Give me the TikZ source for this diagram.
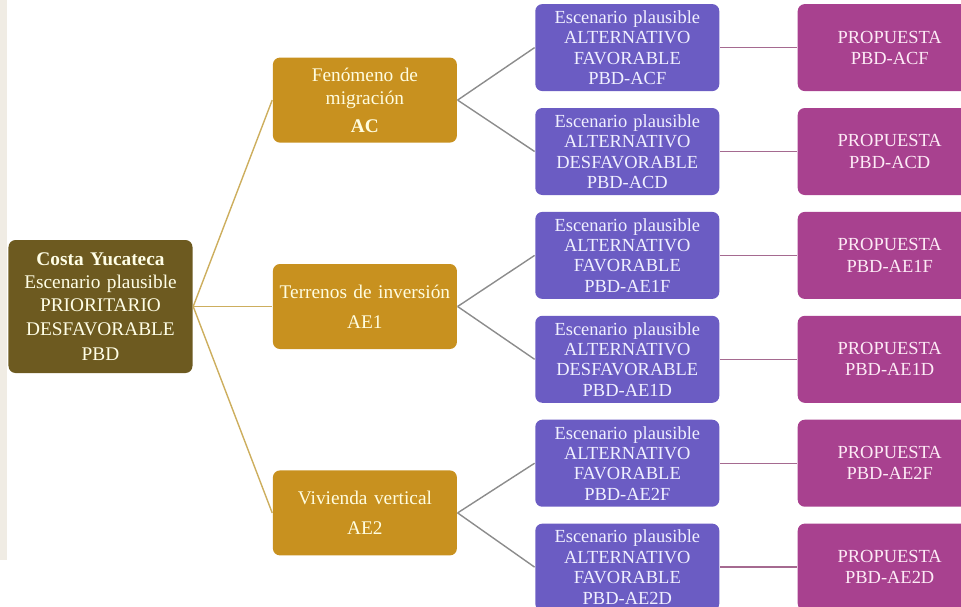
\documentclass[tikz,border=0pt]{standalone}
\usepackage{fontspec}
\setmainfont{Liberation Serif}
\usetikzlibrary{positioning}
\definecolor{rootbrown}{HTML}{6D5A20}
\definecolor{goldbox}{HTML}{C8911F}
\definecolor{purplebox}{HTML}{6B5CC3}
\definecolor{magentabox}{HTML}{A8418F}
\definecolor{goldline}{HTML}{CDAE5E}
\definecolor{grayline}{HTML}{8C8C8C}
\definecolor{magline}{HTML}{A56A90}
\definecolor{leftstrip}{HTML}{F0ECE4}

\begin{document}
\begin{tikzpicture}[
        box/.style={rounded corners=4pt, align=center, inner xsep=0.04cm, text width=3.6cm},
        rootbox/.style={box, fill=rootbrown, text=white!90!yellow, minimum height=2.66cm, font=\fontsize{11}{13}\selectfont},
        themebox/.style={box, fill=goldbox, text=white!88!yellow, minimum height=1.7cm, font=\fontsize{11}{13}\selectfont},
        scenbox/.style={box, fill=purplebox, text=white!94!blue, minimum height=1.74cm, font=\fontsize{10.5}{11.6}\selectfont},
        propbox/.style={box, fill=magentabox, text=white!92!magenta, minimum height=1.74cm, font=\fontsize{10.5}{12}\selectfont},
        line width=0.8pt]
        \useasboundingbox (0,0) rectangle (19.22,-12.12);
        \clip (0,0) rectangle (19.22,-12.12);
        \fill[leftstrip] (0,0) rectangle (0.14,-11.2);

        \node[rootbox] (root) at (2.01,-6.13) {\textbf{Costa Yucateca}\\ Escenario plausible\\ PRIORITARIO\\[1pt] DESFAVORABLE\\[1pt] PBD};

        \node[themebox, right = 1.58cm of root] (ae1) {Terrenos de inversión\\[4pt] AE1};
        \node[themebox, above = 2.4cm of ae1] (ac) {Fenómeno de\\ migración\\[3pt] \textbf{AC}};
        \node[themebox, below = 2.4cm of ae1] (ae2) {Vivienda vertical\\[4pt] AE2};

        \node[scenbox, right = 1.54cm of ac, yshift=1.05cm] (acf) {Escenario plausible\\ ALTERNATIVO\\ FAVORABLE\\ PBD-ACF};
        \node[scenbox, below = 0.31cm of acf] (acd) {Escenario plausible\\ ALTERNATIVO\\ DESFAVORABLE\\ PBD-ACD};
        \node[scenbox, below = 0.31cm of acd] (ae1f) {Escenario plausible\\ ALTERNATIVO\\ FAVORABLE\\ PBD-AE1F};
        \node[scenbox, below = 0.31cm of ae1f] (ae1d) {Escenario plausible\\ ALTERNATIVO\\ DESFAVORABLE\\ PBD-AE1D};
        \node[scenbox, below = 0.31cm of ae1d] (ae2f) {Escenario plausible\\ ALTERNATIVO\\ FAVORABLE\\ PBD-AE2F};
        \node[scenbox, below = 0.31cm of ae2f] (ae2d) {Escenario plausible\\ ALTERNATIVO\\ FAVORABLE\\ PBD-AE2D};

        \node[propbox, right = 1.54cm of acf] (pacf) {PROPUESTA\\ PBD-ACF};
        \node[propbox, right = 1.54cm of acd] (pacd) {PROPUESTA\\ PBD-ACD};
        \node[propbox, right = 1.54cm of ae1f] (pae1f) {PROPUESTA\\ PBD-AE1F};
        \node[propbox, right = 1.54cm of ae1d] (pae1d) {PROPUESTA\\ PBD-AE1D};
        \node[propbox, right = 1.54cm of ae2f] (pae2f) {PROPUESTA\\ PBD-AE2F};
        \node[propbox, right = 1.54cm of ae2d] (pae2d) {PROPUESTA\\ PBD-AE2D};

        \draw[goldline] (root.east) -- (ac.west);
        \draw[goldline] (root.east) -- (ae1.west);
        \draw[goldline] (root.east) -- (ae2.west);

        \draw[grayline] (ac.east) -- (acf.west);
        \draw[grayline] (ac.east) -- (acd.west);
        \draw[grayline] (ae1.east) -- (ae1f.west);
        \draw[grayline] (ae1.east) -- (ae1d.west);
        \draw[grayline] (ae2.east) -- (ae2f.west);
        \draw[grayline] (ae2.east) -- (ae2d.west);

        \draw[magline] (acf) -- (pacf);
        \draw[magline] (acd) -- (pacd);
        \draw[magline] (ae1f) -- (pae1f);
        \draw[magline] (ae1d) -- (pae1d);
        \draw[magline] (ae2f) -- (pae2f);
        \draw[magline] (ae2d) -- (pae2d);
    \end{tikzpicture}
\end{document}
